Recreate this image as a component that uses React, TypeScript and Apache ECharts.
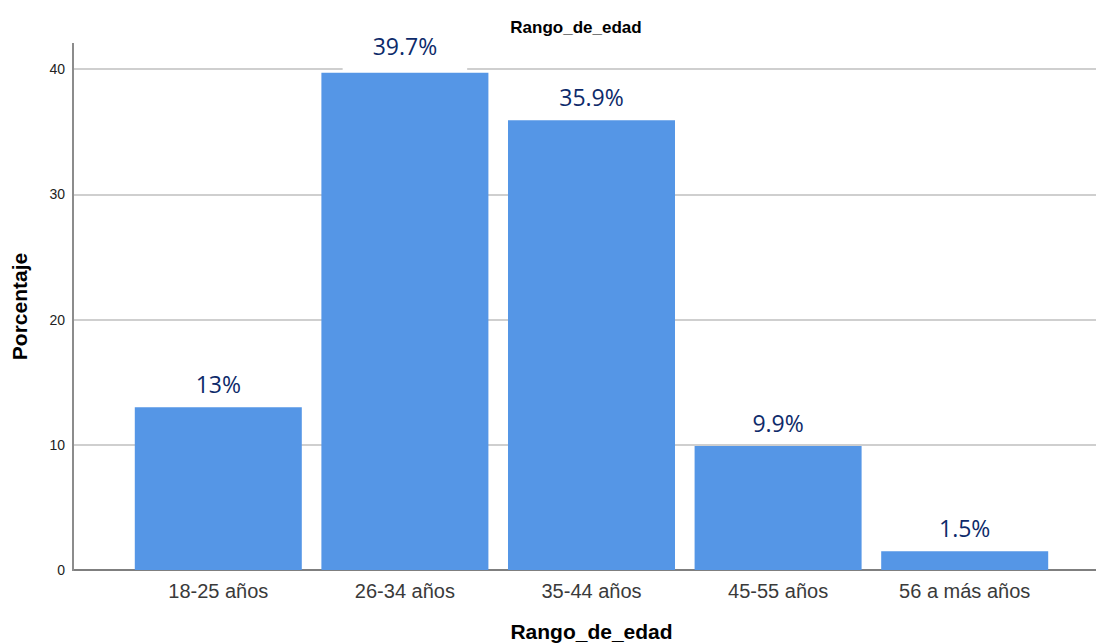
import React, { useEffect, useRef } from "react";
import * as echarts from "echarts";

const categories = ["18-25 años", "26-34 años", "35-44 años", "45-55 años", "56 a más años"];
const percentages = [13, 39.7, 35.9, 9.9, 1.5];
const yTicks = [0, 10, 20, 30, 40];
const titleText = "Rango_de_edad";
const xAxisName = "Rango_de_edad";
const yAxisName = "Porcentaje";

export default function App() {
  const ref = useRef<HTMLDivElement>(null);
  useEffect(() => {
    if (!ref.current) return;
    const chart = echarts.init(ref.current, null, { renderer: "svg" });
    const yMax = yTicks[yTicks.length - 1];
    const maxVal = Math.max(...percentages);
    const font = "'Liberation Sans', Arial, sans-serif";
    chart.setOption({
      animation: false,
      backgroundColor: "#ffffff",
      title: {
        text: titleText,
        left: 571,
        top: 14,
        textAlign: "center",
        textStyle: { fontFamily: font, fontSize: 17, fontWeight: "bold", color: "#000" },
      },
      grid: [
        { left: 73, right: 0, top: 69, bottom: 74, containLabel: false, outerBoundsMode: "none" },
        { left: 125, right: 38, top: 69, bottom: 74, containLabel: false, outerBoundsMode: "none" },
      ],
      xAxis: [
        {
          gridIndex: 0,
          type: "category",
          data: [""],
          axisLine: { show: true, lineStyle: { color: "#7f7f7f", width: 2 } },
          axisTick: { show: false },
          axisLabel: { show: false },
          splitLine: { show: false },
        },
        {
          gridIndex: 1,
          type: "category",
          data: categories,
          axisLine: { show: false },
          axisTick: { show: false },
          axisLabel: { fontFamily: font, fontSize: 20, color: "#3a3a3a", margin: 11 },
          name: xAxisName,
          nameLocation: "middle",
          nameGap: 51,
          nameTextStyle: { fontFamily: font, fontSize: 21, fontWeight: "bold", color: "#000" },
        },
      ],
      yAxis: [
        {
          gridIndex: 0,
          type: "value",
          min: 0,
          max: yMax,
          interval: 10,
          axisLine: { show: false },
          axisTick: { show: false },
          axisLabel: { fontFamily: font, fontSize: 14, color: "#222", margin: 8 },
          splitLine: { show: true, lineStyle: { color: "#cfcfcf", width: 2 } },
          name: yAxisName,
          nameLocation: "middle",
          nameGap: 43,
          nameTextStyle: {
            fontFamily: font,
            fontSize: 21,
            fontWeight: "bold",
            color: "#000",
            padding: [0, 0, 0, 26],
          },
        },
        {
          gridIndex: 1,
          type: "value",
          min: 0,
          max: yMax,
          interval: 10,
          axisLine: { show: false },
          axisTick: { show: false },
          axisLabel: { show: false },
          splitLine: { show: false },
        },
      ],
      graphic: [
        {
          type: "line",
          shape: { x1: 73, y1: 43, x2: 73, y2: 571 },
          style: { stroke: "#8c8c8c", lineWidth: 2 },
          z: 10,
        },
      ],
      series: [
        {
          type: "bar",
          xAxisIndex: 1,
          yAxisIndex: 1,
          barCategoryGap: "10.5%",
          itemStyle: { color: "#5596e6" },
          label: {
            show: true,
            position: "top",
            distance: 12,
            formatter: "{c}%",
            fontFamily: "'Open Sans', 'Noto Sans', sans-serif",
            fontSize: 23,
            color: "#0d2a6a",
          },
          data: percentages.map((v) =>
            v === maxVal
              ? {
                  value: v,
                  label: {
                    backgroundColor: "#ffffff",
                    padding: [2, 30, 13, 30],
                    distance: 2,
                  },
                }
              : v
          ),
          z: 5,
        },
      ],
    });
    return () => chart.dispose();
  }, []);
  return (
    <div
      ref={ref}
      style={{ position: "absolute", left: 0, top: 0, width: 1096, height: 644 }}
    />
  );
}
